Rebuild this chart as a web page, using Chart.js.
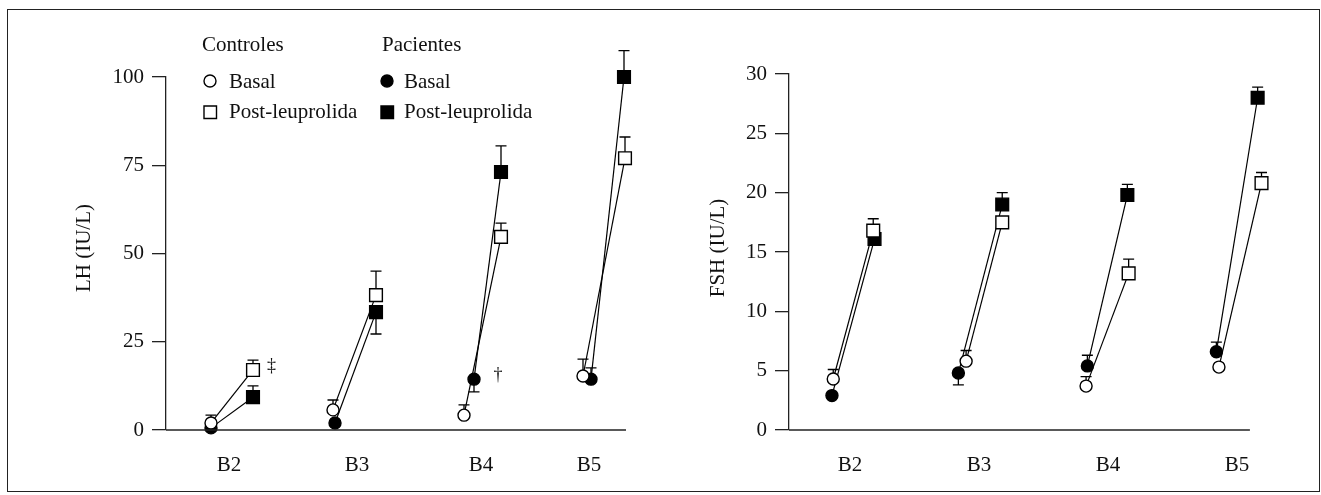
<!DOCTYPE html>
<html>
<head>
<meta charset="utf-8">
<script src="https://cdn.jsdelivr.net/npm/chart.js@4"></script>
<style>
  body { margin: 0; background: #fff; }
  #wrap { position: relative; width: 1321px; height: 495px; overflow: hidden; }
  #frame { position: absolute; left: 7px; top: 9px; width: 1311px; height: 481px; border: 1.5px solid #222; }
  #lh { position: absolute; left: 0; top: 0; }
  #fsh { position: absolute; left: 660px; top: 0; }
</style>
</head>
<body>
<div id="wrap">
  <div id="frame"></div>
  <canvas id="lh" width="660" height="495"></canvas>
  <canvas id="fsh" width="661" height="495"></canvas>
</div>
<script>
/* Data */
var stages = ['B2', 'B3', 'B4', 'B5'];

// LH panel (IU/L)
var lhTickPos = [2, 3.024, 4.016, 4.88];
var lhCtrlBasalX = [1.856, 2.832, 3.88, 4.832];
var lhCtrlBasal = [2.0, 5.7, 4.2, 15.3];
var lhCtrlBasalErr = [2.2, 2.8, 2.9, 4.8];
var lhCtrlPostX = [2.192, 3.176, 4.176, 5.168];
var lhCtrlPost = [17.0, 38.2, 54.7, 77.0];
var lhCtrlPostErr = [2.8, 6.8, 3.9, 6.0];
var lhPatBasalX = [1.856, 2.848, 3.96, 4.896];
var lhPatBasal = [0.6, 2.0, 14.4, 14.4];
var lhPatBasalErr = [0, 0, -3.6, 3.2];
var lhPatPostX = [2.192, 3.176, 4.176, 5.16];
var lhPatPost = [9.3, 33.4, 73.1, 100];
var lhPatPostErr = [3.2, -6.2, 7.4, 7.5];
var lhMarkText = ['\u2021', '\u2020'];
var lhMarkX = [2.34, 4.152];
var lhMarkY = [18, 15.6];

// FSH panel (IU/L)
var fshTickPos = [2, 3, 4, 5];
var fshCtrlBasalX = [1.87, 2.90, 3.83, 4.86];
var fshCtrlBasal = [4.3, 5.8, 3.7, 5.3];
var fshCtrlBasalErr = [0.8, 0.9, 0.8, 0];
var fshCtrlPostX = [2.18, 3.18, 4.16, 5.19];
var fshCtrlPost = [16.8, 17.5, 13.2, 20.8];
var fshCtrlPostErr = [1.0, 0, 1.2, 0.9];
var fshPatBasalX = [1.86, 2.84, 3.84, 4.84];
var fshPatBasal = [2.9, 4.8, 5.4, 6.6];
var fshPatBasalErr = [0, -1.0, 0.9, 0.8];
var fshPatPostX = [2.19, 3.18, 4.15, 5.16];
var fshPatPost = [16.1, 19.0, 19.8, 28.0];
var fshPatPostErr = [0.6, 1.0, 0.9, 0.9];

var legendGroups = ['Controles', 'Pacientes'];
var legendItems = ['Basal', 'Post-leuprolida'];

var FONT = "'Liberation Serif', 'DejaVu Serif', serif";
var INK = '#111';

// basal/post pairs, interleaved per stage
function pairs(bx, b, px, p) {
  var out = [];
  for (var i = 0; i < stages.length; i++) {
    out.push({ x: bx[i], y: b[i] });
    out.push({ x: px[i], y: p[i] });
  }
  return out;
}
function pairErrs(be, pe) {
  var out = [];
  for (var i = 0; i < stages.length; i++) { out.push(be[i]); out.push(pe[i]); }
  return out;
}

function makeDataset(label, data, errs, filled) {
  return {
    label: label,
    data: data,
    errs: errs,
    clip: false,
    borderColor: '#000',
    borderWidth: 1.2,
    tension: 0,
    pointStyle: function (c) { return c.dataIndex % 2 ? 'rect' : 'circle'; },
    pointRadius: function (c) { return c.dataIndex % 2 ? 9 : 6; },
    pointHoverRadius: function (c) { return c.dataIndex % 2 ? 9 : 6; },
    pointBorderWidth: 1.4,
    pointBorderColor: '#000',
    pointBackgroundColor: filled ? '#000' : '#fff',
    segment: {
      borderColor: function (c) { return c.p0DataIndex % 2 === 0 ? '#000' : 'rgba(0,0,0,0)'; }
    }
  };
}

// error bars go under the markers
var errorBars = {
  id: 'errorBars',
  beforeDatasetsDraw: function (chart) {
    var ctx = chart.ctx;
    var ys = chart.scales.y;
    ctx.save();
    ctx.strokeStyle = '#000';
    ctx.lineWidth = 1.3;
    chart.data.datasets.forEach(function (ds, di) {
      var meta = chart.getDatasetMeta(di);
      meta.data.forEach(function (pt, i) {
        var e = ds.errs[i];
        if (!e) return;
        var y1 = ys.getPixelForValue(ds.data[i].y + e);
        ctx.beginPath();
        ctx.moveTo(pt.x, pt.y);
        ctx.lineTo(pt.x, y1);
        ctx.moveTo(pt.x - 5.5, y1);
        ctx.lineTo(pt.x + 5.5, y1);
        ctx.stroke();
      });
    });
    ctx.restore();
  }
};

// x axis line only up to a given value, y title drawn by hand
function axisDecor(xEnd, title, titleX) {
  return {
    id: 'axisDecor',
    afterDraw: function (chart) {
      var ctx = chart.ctx;
      var xs = chart.scales.x, ys = chart.scales.y;
      var y0 = ys.getPixelForValue(0);
      ctx.save();
      ctx.strokeStyle = '#222';
      ctx.lineWidth = 1.3;
      ctx.beginPath();
      ctx.moveTo(chart.chartArea.left, y0);
      ctx.lineTo(xs.getPixelForValue(xEnd), y0);
      ctx.stroke();
      ctx.translate(titleX, 248);
      ctx.rotate(-Math.PI / 2);
      ctx.fillStyle = INK;
      ctx.font = '21px ' + FONT;
      ctx.textAlign = 'center';
      ctx.textBaseline = 'middle';
      ctx.fillText(title, 0, 0);
      ctx.restore();
    }
  };
}

var lhExtras = {
  id: 'lhExtras',
  afterDraw: function (chart) {
    var ctx = chart.ctx;
    var xs = chart.scales.x, ys = chart.scales.y;
    ctx.save();
    ctx.fillStyle = INK;
    ctx.textBaseline = 'middle';
    ctx.textAlign = 'center';
    ctx.font = '18px ' + FONT;
    for (var i = 0; i < lhMarkText.length; i++) {
      ctx.fillText(lhMarkText[i], xs.getPixelForValue(lhMarkX[i]), ys.getPixelForValue(lhMarkY[i]));
    }
    // legend: two groups, two rows
    ctx.textAlign = 'left';
    ctx.textBaseline = 'alphabetic';
    ctx.font = '21px ' + FONT;
    var colX = [202, 382];
    ctx.strokeStyle = '#000';
    ctx.lineWidth = 1.4;
    for (var g = 0; g < legendGroups.length; g++) {
      ctx.fillText(legendGroups[g], colX[g], 51);
      var filled = g === 1;
      var mx = colX[g] + (filled ? 5 : 8);
      // basal circle
      ctx.beginPath();
      ctx.arc(mx, 81, 6, 0, Math.PI * 2);
      ctx.fillStyle = filled ? '#000' : '#fff';
      ctx.fill();
      ctx.stroke();
      // post square
      ctx.beginPath();
      ctx.rect(mx - 6, 106, 12.5, 12.5);
      ctx.fill();
      ctx.stroke();
      ctx.fillStyle = INK;
      ctx.fillText(legendItems[0], colX[g] + (filled ? 22 : 27), 88);
      ctx.fillText(legendItems[1], colX[g] + (filled ? 22 : 27), 118);
    }
    ctx.restore();
  }
};

function panelOptions(opts) {
  return {
    responsive: false,
    devicePixelRatio: 1,
    animation: false,
    layout: { padding: opts.padding },
    plugins: { legend: { display: false }, tooltip: { enabled: false } },
    scales: {
      x: {
        type: 'linear',
        min: opts.xMin,
        max: opts.xMax,
        afterBuildTicks: function (scale) {
          scale.ticks = opts.tickPos.map(function (v) { return { value: v }; });
        },
        afterFit: function (scale) { scale.height = 60; },
        grid: { display: false },
        border: { display: false },
        ticks: {
          autoSkip: false,
          maxRotation: 0,
          padding: 15,
          color: INK,
          font: { family: FONT, size: 21 },
          callback: function (v, i) { return stages[i]; }
        }
      },
      y: {
        min: 0,
        max: opts.yMax,
        afterFit: function (scale) { scale.width = opts.yWidth; },
        ticks: {
          stepSize: opts.yStep,
          padding: 8,
          color: INK,
          font: { family: FONT, size: 21 }
        },
        grid: { drawOnChartArea: false, tickLength: 14, color: '#222', lineWidth: 1.3 },
        border: { display: true, color: '#222', width: 1.3 }
      }
    }
  };
}

new Chart(document.getElementById('lh'), {
  type: 'line',
  data: {
    datasets: [
      makeDataset('Controles', pairs(lhCtrlBasalX, lhCtrlBasal, lhCtrlPostX, lhCtrlPost), pairErrs(lhCtrlBasalErr, lhCtrlPostErr), false),
      makeDataset('Pacientes', pairs(lhPatBasalX, lhPatBasal, lhPatPostX, lhPatPost), pairErrs(lhPatBasalErr, lhPatPostErr), true)
    ]
  },
  options: panelOptions({
    padding: { left: 0, right: 18.5, top: 77, bottom: 5 },
    xMin: 1.496, xMax: 5.3, tickPos: lhTickPos,
    yMax: 100, yStep: 25, yWidth: 166
  }),
  plugins: [errorBars, axisDecor(5.176, 'LH (IU/L)', 84), lhExtras]
});

new Chart(document.getElementById('fsh'), {
  type: 'line',
  data: {
    datasets: [
      makeDataset('Controles', pairs(fshCtrlBasalX, fshCtrlBasal, fshCtrlPostX, fshCtrlPost), pairErrs(fshCtrlBasalErr, fshCtrlPostErr), false),
      makeDataset('Pacientes', pairs(fshPatBasalX, fshPatBasal, fshPatPostX, fshPatPost), pairErrs(fshPatBasalErr, fshPatPostErr), true)
    ]
  },
  options: panelOptions({
    padding: { left: 0, right: 45.3, top: 74, bottom: 5 },
    xMin: 1.527, xMax: 5.3, tickPos: fshTickPos,
    yMax: 30, yStep: 5, yWidth: 129
  }),
  plugins: [errorBars, axisDecor(5.10, 'FSH (IU/L)', 58)]
});
</script>
</body>
</html>
